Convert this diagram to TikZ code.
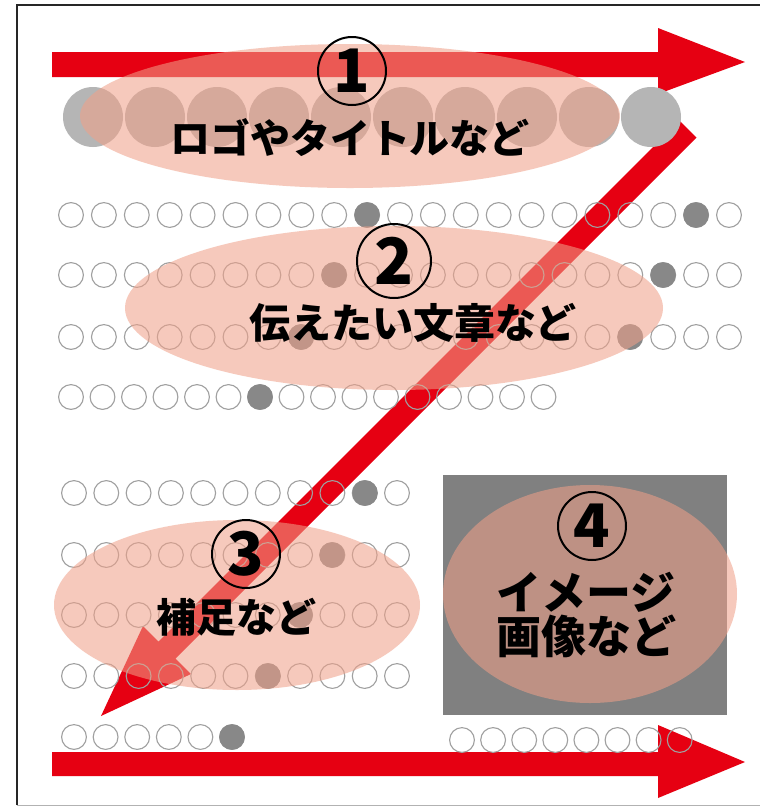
\documentclass[tikz,border=0pt]{standalone}
\usepackage{fontspec}
\newfontfamily\jp{Noto Sans CJK JP}
\definecolor{arrowred}{HTML}{E60012}
\definecolor{pinkfill}{HTML}{F0A088}
\definecolor{dotgray}{HTML}{888888}
\definecolor{biggray}{HTML}{B5B5B5}
\definecolor{ringgray}{HTML}{A0A0A0}
\definecolor{boxgray}{HTML}{808080}
\begin{document}
\begin{tikzpicture}[x=1pt,y=-1pt,
  oring/.style={draw=ringgray, line width=1.1pt},
  fdot/.style={fill=dotgray},
  hilite/.style={fill=pinkfill, fill opacity=0.56},
  jptext/.style={font=\jp\bfseries\fontsize{40}{44}\selectfont, inner sep=0pt},
  numring/.style={circle, draw=black, line width=2pt, minimum size=68pt, inner sep=0pt, font=\jp\bfseries\fontsize{60}{60}\selectfont}
]
\useasboundingbox (0,0) rectangle (760,807);
\fill[white] (0,0) rectangle (760,807);
% frame
\draw[line width=2pt, black!85] (17,805) -- (17,5) -- (770,5);
\draw[line width=1pt, black!30] (17,805) -- (770,805);
% arrows
\fill[arrowred] (52,52) -- (658,52) -- (658,28) -- (745,62) -- (658,94) -- (658,77) -- (52,77) -- cycle;
\fill[arrowred] (679.5,120.5) -- (696.5,137.5) -- (175.5,658.5) -- (191,674) -- (101,716) -- (143,626) -- (158.5,641.5) -- cycle;
\fill[arrowred] (52,752) -- (658,752) -- (658,725) -- (745,762) -- (658,798) -- (658,776) -- (52,776) -- cycle;
% big grey circles
\foreach \i in {0,...,9} \fill[biggray] (93+62*\i,117) circle[radius=30];
% outline circles
\foreach \y/\xo/\dx/\n in {215/71/32.9/20, 275/71/32.9/20, 337/71/32.9/20, 397/71/31.5/15, 493/74/32.3/10, 555/74/32.3/10, 615/74/32.3/10, 676/74/32.3/10, 737/74/31.6/5, 740/462/31.1/7}
  \foreach \i in {0,...,\n} \draw[oring] (\xo+\i*\dx,\y) circle[radius=12.4];
% filled dots
\foreach \px/\py in {367/215, 696/215, 334/275, 663/275, 301/337, 630/337, 260/397, 365/493, 332/555, 300/615, 268/676, 232/737}
  \fill[fdot] (\px,\py) circle[radius=12.8];
% image box
\fill[boxgray] (443,475) rectangle (727,715);
% highlight ellipses
\fill[hilite] (350,116) ellipse[x radius=270, y radius=72];
\fill[hilite] (394,308) ellipse[x radius=269, y radius=82];
\fill[hilite] (237,605) ellipse[x radius=183, y radius=85];
\fill[hilite] (590,594) ellipse[x radius=147, y radius=109];
% labels
\node[numring] (n1) at (352,71) {1};
\node[jptext] (t1) at (350,138) {ロゴやタイトルなど};
\node[numring, minimum size=74pt, font=\jp\bfseries\fontsize{64}{64}\selectfont] (n2) at (394,261) {2};
\node[jptext, font=\jp\bfseries\fontsize{41}{44}\selectfont] (t2) at (413,323) {伝えたい文章など};
\node[numring] (n3) at (246,554) {3};
\node[jptext] (t3) at (236,617) {補足など};
\node[numring] (n4) at (592,526) {4};
\node[jptext, align=center, font=\jp\bfseries\fontsize{45}{44}\selectfont] (t4) at (586,615) {イメージ\\画像など};
\end{tikzpicture}
\end{document}
